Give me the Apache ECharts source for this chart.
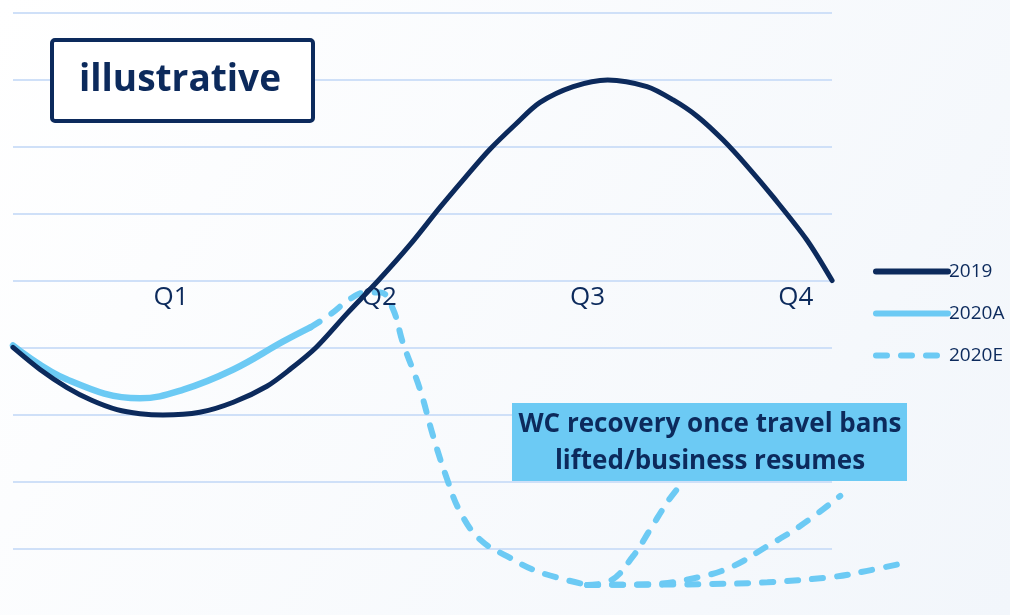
<!DOCTYPE html>
<html>
<head>
<meta charset="utf-8">
<script src="https://cdn.jsdelivr.net/npm/echarts@6/dist/echarts.min.js"></script>
<style>
html,body{margin:0;padding:0;background:#fff;}
#chart{width:1010px;height:615px;}
</style>
</head>
<body>
<div id="chart"></div>
<script>
// ---- data (x: time index across the plot, 0..100 = Q1 start..Q4 gridline end; y: working-capital index) ----
const quarterLabels = ['Q1', 'Q2', 'Q3', 'Q4'];
const seriesNames = ['2019', '2020A', '2020E'];

const data2019 = [
  [0, -1.00], [3.3, -1.33], [6.6, -1.60], [9.6, -1.79], [12.7, -1.93],
  [15.5, -1.99], [18.3, -2.01], [22.8, -1.97], [26.9, -1.82], [31.0, -1.58],
  [33.8, -1.33], [37.0, -1.00], [40.8, -0.49], [44.6, 0.00], [48.5, 0.54],
  [52.1, 1.09], [55.2, 1.54], [58.2, 1.96], [61.3, 2.33], [64.3, 2.66],
  [68.4, 2.90], [72.6, 3.00], [77.4, 2.90], [80.6, 2.70], [83.6, 2.45],
  [86.7, 2.10], [89.7, 1.70], [92.8, 1.25], [96.9, 0.61], [100, 0.00]
];
const data2020A = [
  [0, -0.97], [6.6, -1.48], [15.5, -1.76], [20.8, -1.63], [26.9, -1.33],
  [33.0, -0.91], [36.3, -0.70]
];
const data2020E = [
  [36.3, -0.70], [38.7, -0.51], [41.1, -0.28], [43.0, -0.18], [44.9, -0.18],
  [46.4, -0.43], [47.6, -0.93], [49.7, -1.63], [51.3, -2.33], [53.0, -2.97],
  [54.6, -3.46], [57.0, -3.87], [60.3, -4.12], [64.3, -4.36], [70.1, -4.55]
];
const data2020EFast = [
  [70.1, -4.55], [72.9, -4.49], [75.7, -4.12], [77.8, -3.72], [79.9, -3.31], [81.2, -3.10]
];
const data2020EMid = [
  [70.1, -4.55], [77.8, -4.54], [83.9, -4.43], [87.9, -4.27], [92.1, -3.97],
  [96.1, -3.67], [101.0, -3.22]
];
const data2020ESlow = [
  [70.1, -4.55], [83.9, -4.54], [92.1, -4.51], [100.1, -4.43], [104.3, -4.34], [109.2, -4.21]
];
const tagText = 'illustrative';
const noteText = 'WC recovery once travel bans\nlifted/business resumes';

// ---- styles ----
const NAVY = '#0c2a5c';
const LIGHT = '#6ccaf4';
const GRID = '#cfe0f8';

const chart = echarts.init(document.getElementById('chart'), null, {renderer: 'canvas'});

function dashed(data) {
  return {
    name: '2020E', type: 'line', xAxisIndex: 0, yAxisIndex: 0,
    data: data, smooth: 0.4, symbol: 'none', clip: false, z: 3,
    lineStyle: {color: LIGHT, width: 6, type: [11, 14], cap: 'round'},
    itemStyle: {color: LIGHT}
  };
}

chart.setOption({
  backgroundColor: {
    type: 'linear', x: 0, y: 0, x2: 1, y2: 1,
    colorStops: [{offset: 0, color: '#ffffff'}, {offset: 1, color: '#f2f6fb'}]
  },
  animation: false,
  grid: [
    {left: 13, width: 901, top: 13, height: 603, containLabel: false},
    {left: 67, width: 833, top: 13, height: 268, containLabel: false},
    {left: 13, width: 819, top: 13, height: 536, containLabel: false}
  ],
  xAxis: [
    {type: 'value', gridIndex: 0, min: 0, max: 110, show: false},
    {
      type: 'category', gridIndex: 1, data: quarterLabels, boundaryGap: true,
      axisLine: {show: false}, axisTick: {show: false}, splitLine: {show: false},
      axisLabel: {color: NAVY, fontSize: 26, fontFamily: 'Open Sans', margin: 4}, z: 10
    },
    {type: 'value', gridIndex: 2, min: 0, max: 1, show: false}
  ],
  yAxis: [
    {type: 'value', gridIndex: 0, min: -5, max: 4, show: false},
    {type: 'value', gridIndex: 1, min: 0, max: 1, show: false},
    {
      type: 'value', gridIndex: 2, min: -4, max: 4, interval: 1,
      axisLine: {show: false}, axisTick: {show: false}, axisLabel: {show: false},
      splitLine: {show: true, lineStyle: {color: GRID, width: 2}}
    }
  ],
  legend: {
    orient: 'vertical', left: 873, top: 262, padding: 0,
    itemWidth: 72, itemHeight: 14, itemGap: 23,
    data: seriesNames,
    itemStyle: {opacity: 0},
    lineStyle: {width: 6, cap: 'round'},
    textStyle: {color: NAVY, fontSize: 19, fontFamily: 'Open Sans', padding: [0, 0, 0, -4]},
    selectedMode: false
  },
  series: [
    {
      name: '2020A', type: 'line', xAxisIndex: 0, yAxisIndex: 0,
      data: data2020A, smooth: 0.4, symbol: 'none', z: 3,
      lineStyle: {color: LIGHT, width: 6.5, cap: 'round'}, itemStyle: {color: LIGHT}
    },
    dashed(data2020E),
    dashed(data2020EFast),
    dashed(data2020EMid),
    dashed(data2020ESlow),
    {
      name: '2019', type: 'line', xAxisIndex: 0, yAxisIndex: 0,
      data: data2019, smooth: 0.3, symbol: 'none', z: 4,
      lineStyle: {color: NAVY, width: 5, cap: 'round'}, itemStyle: {color: NAVY}
    }
  ],
  graphic: [
    {
      type: 'rect', left: 50, top: 38, z: 20,
      shape: {width: 261, height: 81, r: 3},
      style: {fill: '#ffffff', stroke: NAVY, lineWidth: 4}
    },
    {
      type: 'text', z: 21, x: 180, y: 80,
      style: {
        text: tagText, fill: NAVY, font: 'bold 37px "Open Sans"',
        align: 'center', verticalAlign: 'middle'
      }
    },
    {
      type: 'rect', left: 512, top: 403, z: 20,
      shape: {width: 395, height: 78},
      style: {fill: LIGHT}
    },
    {
      type: 'text', z: 21, x: 710, y: 443,
      style: {
        text: noteText, fill: NAVY, font: 'bold 26px "Open Sans"', lineHeight: 37,
        align: 'center', verticalAlign: 'middle'
      }
    }
  ]
});
</script>
</body>
</html>
